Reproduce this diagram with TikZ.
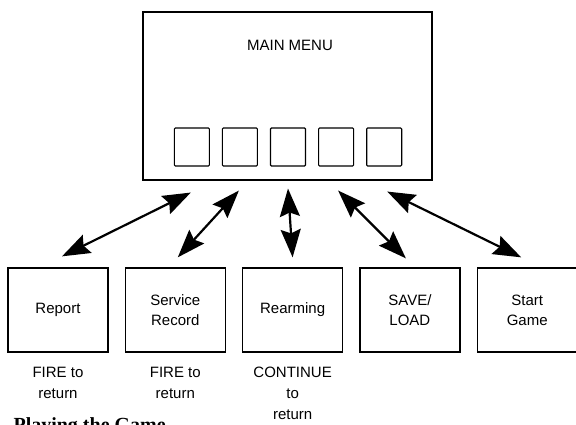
\documentclass[tikz,border=0pt]{standalone}
\usepackage{fontspec}
\setmainfont{Liberation Sans}
\newfontfamily\headfont{Liberation Serif}
\usetikzlibrary{arrows.meta,positioning,calc}

\begin{document}
\begin{tikzpicture}[x=1pt,y=-1pt,
                    node distance=16pt,
                    screen node/.style={rectangle,draw,line width=1.3pt,minimum width=100pt,
                      minimum height=84pt,align=center,font=\fontsize{15}{20}\selectfont},
                    key node/.style={rectangle,draw,line width=1.1pt,rounded corners=1pt,
                      minimum width=35pt,minimum height=38pt,inner sep=0pt},
                    note node/.style={align=center,inner sep=0pt,font=\fontsize{15}{21}\selectfont},
                    link/.style={line width=2.2pt,
                      {Stealth[length=28pt,width=20pt,inset=4pt]}-{Stealth[length=28pt,width=20pt,inset=4pt]}}]
  \useasboundingbox (0,0) rectangle (576,425);
  \node[rectangle,draw,line width=1.3pt,minimum width=289pt,minimum height=168pt] (menu) at (287.5,96) {};
  \node[font=\fontsize{15}{18}\selectfont] (title) at (290,45) {MAIN MENU};
  \node[key node] (k3) at (288,147) {};
  \node[key node] (k2) [left=12pt of k3] {};
  \node[key node] (k1) [left=12pt of k2] {};
  \node[key node] (k4) [right=12pt of k3] {};
  \node[key node] (k5) [right=12pt of k4] {};
  \node[screen node] (report) at (58,310) {Report};
  \node[screen node] (record) [right=of report] {Service\\Record};
  \node[screen node] (rearm) [right=of record] {Rearming};
  \node[screen node] (save) [right=of rearm] {SAVE/\\LOAD};
  \node[screen node] (start) [right=of save] {Start\\Game};
  \node[note node] (n1) [below=14pt of report] {FIRE to\\return};
  \node[note node] (n2) [below=14pt of record] {FIRE to\\return};
  \node[note node] (n3) [below=14pt of rearm] {CONTINUE\\to\\return};
  \node[anchor=base west,font=\headfont\fontsize{20}{24}\selectfont\bfseries] (head) at (10,431) {Playing the Game};
  \draw[link] ($(k1.south)+(-1,26)$) -- ($(report.north)+(4,-11)$);
  \draw[link] ($(k2.south)+(-1,24)$) -- ($(record.north)+(2.5,-10)$);
  \draw[link] ($(k3.south)+(0,22)$) -- ($(rearm.north)+(0,-10)$);
  \draw[link] ($(k4.south)+(2,24)$) -- ($(save.north)+(-4,-9)$);
  \draw[link] ($(k5.south)+(3,25)$) -- ($(start.north)+(-6,-10)$);
\end{tikzpicture}
\end{document}
